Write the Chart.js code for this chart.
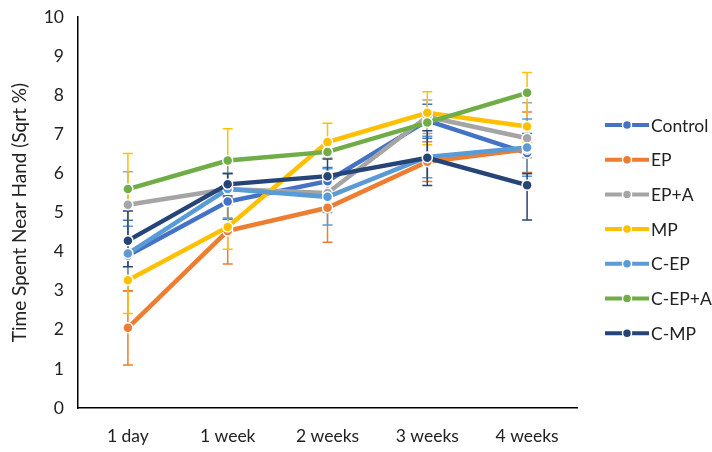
<!DOCTYPE html>
<html>
<head>
<meta charset="utf-8">
<script src="https://cdn.jsdelivr.net/npm/chart.js@4"></script>
<style>
  html, body { margin: 0; padding: 0; background: #fff; }
  #wrap { width: 712px; height: 452px; }
</style>
</head>
<body>
<div id="wrap"><canvas id="myChart" width="712" height="452"></canvas></div>
<script>
const categories = ['1 day', '1 week', '2 weeks', '3 weeks', '4 weeks'];
const yTicks = [0, 1, 2, 3, 4, 5, 6, 7, 8, 9, 10];

const seriesNames = ['Control', 'EP', 'EP+A', 'MP', 'C-EP', 'C-EP+A', 'C-MP'];

const control = [3.9, 5.28, 5.8, 7.35, 6.52];
const ep = [2.05, 4.53, 5.12, 6.3, 6.62];
const epA = [5.2, 5.6, 5.5, 7.45, 6.9];
const mp = [3.27, 4.63, 6.8, 7.55, 7.2];
const cEp = [3.95, 5.6, 5.4, 6.42, 6.66];
const cEpA = [5.6, 6.33, 6.55, 7.3, 8.06];
const cMp = [4.28, 5.72, 5.93, 6.4, 5.7];

// error bars, up / down
const controlUp = [0.9, 0.72, 0.35, 0.42, 0.5];
const controlDown = [0.9, 0.45, 0.35, 0.45, 0.52];
const epUp = [0.95, 0.85, 0.88, 0.51, 0.95];
const epDown = [0.95, 0.85, 0.88, 0.51, 0.6];
const epAUp = [0.84, 0.4, 0.5, 0.43, 0.91];
const epADown = [0.84, 0.4, 0.5, 0.43, 0.5];
const mpUp = [3.24, 2.51, 0.48, 0.54, 1.38];
const mpDown = [0.85, 0.57, 0.4, 0.82, 0.4];
const cEpUp = [0.7, 0.74, 0.72, 0.53, 0.73];
const cEpDown = [0.7, 0.74, 0.72, 0.53, 0.73];
const cEpAUp = [0, 0, 0, 0, 0];
const cEpADown = [0, 0, 0, 0, 0];
const cMpUp = [0.76, 0.28, 0.44, 0.69, 0.3];
const cMpDown = [0.67, 0.3, 0.44, 0.71, 0.89];

const colors = ['#4472C4', '#ED7D31', '#A5A5A5', '#FFC000', '#5B9BD5', '#70AD47', '#264478'];
const values = [control, ep, epA, mp, cEp, cEpA, cMp];
const ups = [controlUp, epUp, epAUp, mpUp, cEpUp, cEpAUp, cMpUp];
const downs = [controlDown, epDown, epADown, mpDown, cEpDown, cEpADown, cMpDown];

const FONT = 'Lato, "Open Sans", sans-serif';

// excel style error bars, drawn under the lines
const errorBars = {
  id: 'errorBars',
  beforeDatasetsDraw(chart) {
    const ctx = chart.ctx;
    const y = chart.scales.y;
    ctx.save();
    ctx.lineWidth = 1.5;
    chart.data.datasets.forEach((ds, i) => {
      const meta = chart.getDatasetMeta(i);
      ctx.strokeStyle = ds.borderColor;
      meta.data.forEach((pt, j) => {
        const v = ds.data[j];
        const up = ups[i][j], down = downs[i][j];
        if (!up && !down) return;
        const yTop = y.getPixelForValue(v + up);
        const yBot = y.getPixelForValue(v - down);
        ctx.beginPath();
        ctx.moveTo(pt.x, yTop);
        ctx.lineTo(pt.x, yBot);
        ctx.moveTo(pt.x - 5, yTop);
        ctx.lineTo(pt.x + 5, yTop);
        ctx.moveTo(pt.x - 5, yBot);
        ctx.lineTo(pt.x + 5, yBot);
        ctx.stroke();
      });
    });
    ctx.restore();
  },
};

// legend on the right: line + marker + label
const sideLegend = {
  id: 'sideLegend',
  afterDraw(chart) {
    const ctx = chart.ctx;
    ctx.save();
    ctx.font = '17.5px ' + FONT;
    ctx.textBaseline = 'middle';
    seriesNames.forEach((name, i) => {
      const yy = 125 + i * 34.7;
      ctx.strokeStyle = colors[i];
      ctx.lineWidth = 4;
      ctx.beginPath();
      ctx.moveTo(605, yy);
      ctx.lineTo(649, yy);
      ctx.stroke();
      ctx.beginPath();
      ctx.arc(627, yy, 4.5, 0, Math.PI * 2);
      ctx.fillStyle = colors[i];
      ctx.fill();
      ctx.lineWidth = 1.5;
      ctx.strokeStyle = '#fff';
      ctx.stroke();
      ctx.fillStyle = '#222';
      ctx.fillText(name, 651, yy + 1);
    });
    ctx.restore();
  },
};

const chart1 = document.getElementById('myChart').getContext('2d');

const myChart = new Chart(chart1, {
  type: 'line',
  data: {
    labels: categories,
    datasets: seriesNames.map((name, i) => ({
      label: name,
      data: values[i],
      borderColor: colors[i],
      backgroundColor: colors[i],
      borderWidth: 4.5,
      pointRadius: 5,
      pointBorderColor: '#fff',
      pointBorderWidth: 1.5,
      tension: 0,
      order: seriesNames.length - i,
    })),
  },
  options: {
    responsive: false,
    animation: false,
    layout: {
      padding: { top: 17, right: 135, bottom: 0, left: 0 },
    },
    scales: {
      y: {
        min: 0,
        max: 10,
        afterBuildTicks: (axis) => {
          axis.ticks = yTicks.map((v) => ({ value: v }));
        },
        afterFit: (axis) => {
          axis.width = 78;
          axis.paddingTop = 0;
          axis.paddingBottom = 0;
        },
        grid: { display: false, drawTicks: false },
        border: { color: '#000', width: 1.5 },
        ticks: {
          padding: 14,
          color: '#222',
          font: { family: FONT, size: 17.5 },
        },
        title: {
          display: true,
          text: 'Time Spent Near Hand (Sqrt %)',
          color: '#222',
          font: { family: FONT, size: 19 },
          padding: { top: 8, bottom: 4 },
        },
      },
      x: {
        offset: true,
        afterFit: (axis) => {
          axis.height = 44;
        },
        grid: { display: false, drawTicks: false },
        border: { color: '#000', width: 1.5 },
        ticks: {
          padding: 18,
          color: '#222',
          font: { family: FONT, size: 17.5 },
        },
      },
    },
    plugins: {
      legend: { display: false },
      tooltip: { enabled: false },
    },
  },
  plugins: [errorBars, sideLegend],
});
</script>
</body>
</html>
